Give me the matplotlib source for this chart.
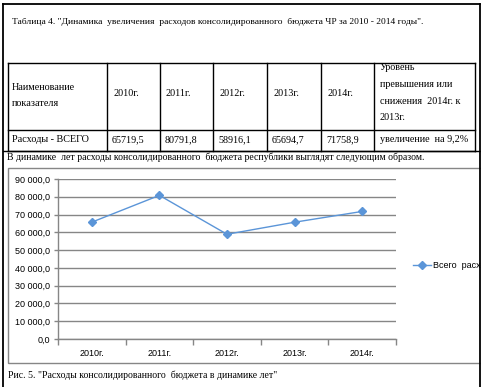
import matplotlib
matplotlib.use('Agg')
import matplotlib.pyplot as plt
from matplotlib.lines import Line2D
from matplotlib.patches import Rectangle
from matplotlib.ticker import FuncFormatter, FixedLocator

# --- data ---
years = ['2010г.', '2011г.', '2012г.', '2013г.', '2014г.']
expenses = [65719.5, 80791.8, 58916.1, 65694.7, 71758.9]
expenses_txt = ['65719,5', '80791,8', '58916,1', '65694,7', '71758,9']
row_name = 'Расходы - ВСЕГО'
head_name = ['Наименование', 'показателя']
head_last = ['Уровень', 'превышения или', 'снижения  2014г. к', '2013г.']
last_value = 'увеличение  на 9,2%'
series_name = 'Всего  расходов'
y_ticks = [0, 10000, 20000, 30000, 40000, 50000, 60000, 70000, 80000, 90000]

W, H = 484, 387
SERIF = 'Liberation Serif'
SANS = 'Liberation Sans'
BLUE = '#5b95d8'
GRID = '#868686'


def fx(x):
    return x / W


def fy(y):
    return 1 - y / H


def hline(fig, x0, x1, y, color='black', lw=1.0, z=5):
    fig.add_artist(Line2D([fx(x0), fx(x1)], [fy(y), fy(y)], color=color, lw=lw, zorder=z))


def vline(fig, x, y0, y1, color='black', lw=1.0, z=5):
    fig.add_artist(Line2D([fx(x), fx(x)], [fy(y0), fy(y1)], color=color, lw=lw, zorder=z))


def ptext(fig, x, y, s, size=7.3, family=SERIF, **kw):
    fig.text(fx(x), fy(y), s, fontsize=size, family=family, va='center', ha='left', **kw)


fig = plt.figure(figsize=(W / 100, H / 100), dpi=100)
fig.patch.set_facecolor('white')

# --- document frame ---
hline(fig, 3, 480, 4, lw=1.3)
vline(fig, 3, 4, H, lw=1.3)
vline(fig, 480, 4, H, lw=1.3, z=20)
hline(fig, 3, 480, 151, lw=1.0)

ptext(fig, 12, 22, 'Таблица 4. "Динамика  увеличения  расходов консолидированного  бюджета ЧР за 2010 - 2014 годы".',
      size=6.8)

# --- table ---
cols = [8, 107, 160, 213, 267, 321, 374, 475]
t_top, t_mid, t_bot = 63, 130, 151
for y in (t_top, t_mid, t_bot):
    hline(fig, cols[0], cols[-1], y)
for x in cols:
    vline(fig, x, t_top, t_bot)

ptext(fig, cols[0] + 4, 87, head_name[0])
ptext(fig, cols[0] + 4, 103, head_name[1])
for i, yr in enumerate(years):
    ptext(fig, cols[i + 1] + 6, 94, yr)
    ptext(fig, cols[i + 1] + 5, 140, expenses_txt[i])
for j, line in enumerate(head_last):
    ptext(fig, cols[6] + 6, 68 + j * 16.5, line)
ptext(fig, cols[0] + 4, 140, row_name)
ptext(fig, cols[6] + 6, 140, last_value)

ptext(fig, 7, 157, 'В динамике  лет расходы консолидированного  бюджета республики выглядят следующим образом.',
      size=7.0)

# --- chart frame ---
fig.add_artist(Rectangle((fx(8), fy(363)), fx(490 - 8), (363 - 168) / H,
                         fill=False, edgecolor=GRID, lw=1.0, zorder=3))

ax = fig.add_axes([fx(58), fy(339), (396 - 58) / W, (339 - 179) / H])
x = list(range(len(years)))
ax.plot(x, expenses, color=BLUE, lw=1.0, marker='D', markersize=4,
        markerfacecolor=BLUE, markeredgecolor=BLUE, label=series_name, zorder=4)
ax.set_xlim(-0.5, len(years) - 0.5)
ax.set_ylim(0, 90000)

ax.yaxis.set_major_locator(FixedLocator(y_ticks))
ax.yaxis.set_major_formatter(FuncFormatter(
    lambda v, p: f'{v:,.1f}'.replace(',', ' ').replace('.', ',')))
ax.set_xticks(x)
ax.set_xticklabels(years)
ax.set_xticks([i - 0.5 for i in range(len(years) + 1)], minor=True)
ax.tick_params(axis='x', which='major', length=0, pad=7, labelsize=6.5)
ax.tick_params(axis='x', which='minor', length=4, color=GRID, width=1.0)
ax.tick_params(axis='y', length=3, color=GRID, width=1.0, pad=3, labelsize=6.5)
for lab in ax.get_xticklabels() + ax.get_yticklabels():
    lab.set_family(SANS)
ax.grid(axis='y', color=GRID, lw=1.0)
ax.set_axisbelow(True)
for s in ('top', 'right'):
    ax.spines[s].set_visible(False)
for s in ('left', 'bottom'):
    ax.spines[s].set_color(GRID)
    ax.spines[s].set_linewidth(1.0)

fig.legend(handles=ax.get_lines(), loc='center left', bbox_to_anchor=(fx(409), fy(266)),
           frameon=False, handlelength=2.0, handletextpad=0.3, borderaxespad=0,
           prop={'family': SANS, 'size': 6.5})

# cut off at the page edge, as in the source document
fig.add_artist(Rectangle((fx(480.5), 0), 1 - fx(480.5), 1, color='white', zorder=15))

ptext(fig, 8, 375, 'Рис. 5. "Расходы консолидированного  бюджета в динамике лет"', size=7.0)

fig.savefig('out.png', dpi=100, facecolor='white')
